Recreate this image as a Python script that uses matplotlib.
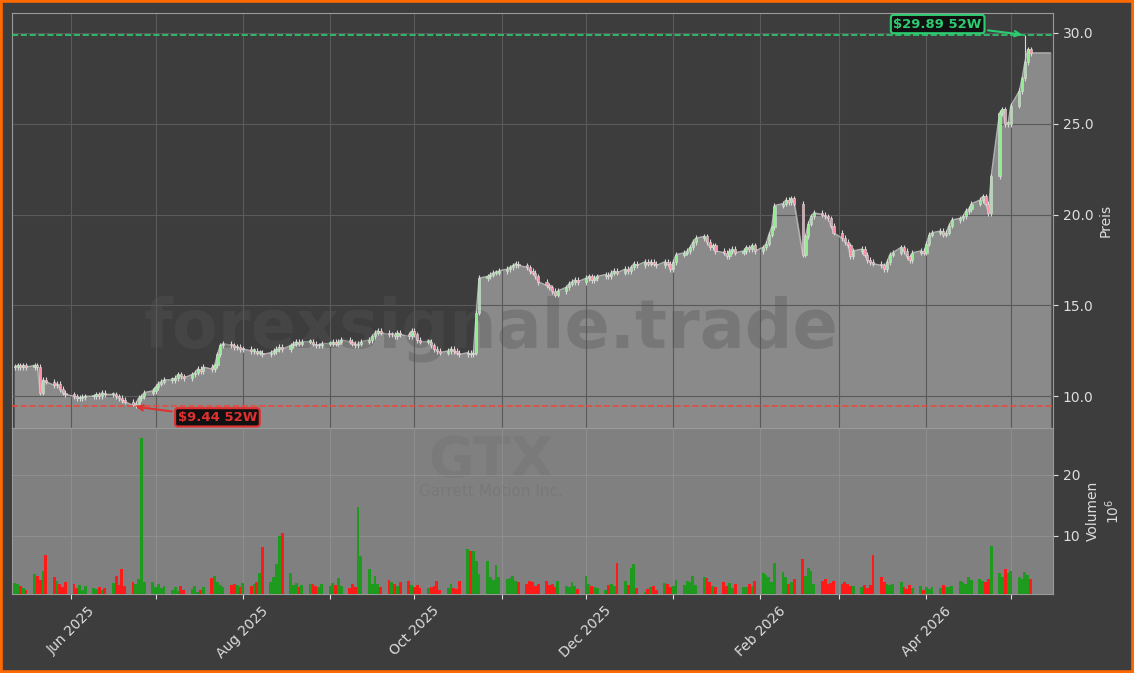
import numpy as np
import pandas as pd
import matplotlib.pyplot as plt
import matplotlib.dates as mdates

# daily closes, 5 per week starting Mon 2025-05-12
closes = [
    11.6, 11.7, 11.6, 11.7, 11.6,
    11.7, 11.6, 10.2, 10.9, 10.8,
    10.6, 10.7, 10.4, 10.2, 10.1,
    10.0, 9.9, 9.9, 9.95, 10.0,
    10.0, 10.1, 10.0, 10.2, 10.1,
    10.1, 10.0, 9.9, 9.8, 9.7,
    9.5, 9.6, 9.9, 10.0, 10.2,
    10.3, 10.5, 10.7, 10.8, 10.9,
    10.9, 11.0, 11.2, 11.1, 11.0,
    11.2, 11.3, 11.5, 11.4, 11.6,
    11.5, 11.7, 12.3, 12.8, 12.9,
    12.8, 12.7, 12.7, 12.6, 12.6,
    12.5, 12.5, 12.4, 12.4, 12.3,
    12.4, 12.5, 12.6, 12.7, 12.6,
    12.8, 12.9, 13.0, 12.9, 13.0,
    13.0, 12.9, 12.8, 12.8, 12.9,
    12.9, 13.0, 12.9, 13.0, 13.1,
    13.0, 12.9, 12.8, 12.9, 13.0,
    13.1, 13.3, 13.5, 13.6, 13.5,
    13.4, 13.4, 13.3, 13.5, 13.4,
    13.3, 13.6, 13.4, 13.1, 13.0,
    13.0, 12.8, 12.6, 12.5, 12.4,
    12.5, 12.6, 12.5, 12.4, 12.3,
    12.4, 12.3, 12.4, 14.6, 16.5,
    16.6, 16.7, 16.8, 16.8, 16.9,
    17.0, 17.1, 17.2, 17.3, 17.2,
    17.1, 16.9, 16.8, 16.6, 16.3,
    16.1, 16.0, 15.8, 15.6, 15.8,
    16.0, 16.2, 16.3, 16.4, 16.3,
    16.5, 16.6, 16.4, 16.5, 16.6,
    16.7, 16.6, 16.8, 16.9, 16.8,
    17.0, 16.9, 17.1, 17.3, 17.2,
    17.4, 17.3, 17.4, 17.3, 17.2,
    17.4, 17.3, 17.0, 17.4, 17.8,
    17.9, 18.0, 18.2, 18.5, 18.7,
    18.8, 18.5, 18.2, 18.3, 18.0,
    17.9, 17.7, 18.0, 18.1, 17.9,
    18.0, 18.2, 18.1, 18.3, 18.0,
    18.2, 18.4, 18.9, 19.3, 20.5,
    20.6, 20.8, 20.7, 20.9, 20.6,
    17.8, 18.8, 19.5, 19.9, 20.1,
    20.0, 19.9, 19.8, 19.4, 19.0,
    18.7, 18.5, 18.3, 17.7, 18.0,
    18.1, 17.8, 17.5, 17.4, 17.3,
    17.2, 17.0, 17.4, 17.8, 17.9,
    18.2, 18.0, 17.7, 17.5, 17.9,
    18.0, 17.9, 18.4, 18.9, 19.0,
    19.1, 18.9, 19.0, 19.4, 19.7,
    19.8, 19.9, 20.2, 20.3, 20.6,
    20.8, 21.0, 20.6, 20.1, 22.1,
    25.6, 25.8, 25.0, 25.0, 26.0,
    26.8, 27.5, 28.4, 29.1, 28.9,
]

# volume in millions
volumes = [
    2.3, 2.1, 1.8, 1.5, 1.2,
    3.8, 3.4, 2.8, 4.2, 6.9,
    3.2, 2.6, 2.1, 1.6, 2.5,
    2.2, 1.4, 1.9, 1.2, 1.8,
    1.5, 1.3, 1.7, 1.1, 1.4,
    2.3, 3.4, 2.0, 4.6, 1.8,
    2.4, 2.1, 3.0, 26.0, 2.4,
    2.4, 1.6, 2.2, 1.4, 1.8,
    1.1, 1.6, 1.0, 1.8, 1.2,
    1.3, 1.8, 0.9, 1.1, 1.6,
    3.1, 3.4, 2.5, 2.0, 1.7,
    1.9, 2.2, 2.0, 1.6, 2.3,
    1.8, 2.2, 2.4, 4.0, 8.1,
    2.4, 3.2, 5.4, 10.0, 10.5,
    4.0, 1.9, 2.3, 1.7, 1.9,
    2.2, 2.1, 1.8, 1.6, 2.1,
    1.8, 2.3, 1.9, 3.1, 1.8,
    1.5, 2.2, 1.7, 14.7, 6.7,
    4.5, 2.1, 3.4, 2.2, 1.6,
    2.8, 2.4, 2.2, 1.8, 2.4,
    2.6, 2.0, 1.7, 1.9, 1.5,
    1.4, 1.6, 1.8, 2.6, 1.2,
    1.5, 2.1, 1.4, 1.3, 2.7,
    7.8, 7.6, 7.6, 5.9, 3.8,
    5.9, 3.2, 2.8, 5.2, 3.2,
    3.0, 3.1, 3.4, 2.6, 2.4,
    2.2, 2.6, 2.4, 1.8, 2.1,
    2.6, 1.9, 2.2, 1.6, 2.7,
    1.8, 1.6, 2.5, 1.8, 1.3,
    3.4, 2.2, 1.8, 1.7, 1.4,
    1.2, 1.9, 2.2, 1.8, 5.6,
    2.6, 2.0, 4.8, 5.4, 1.4,
    0.8, 1.3, 1.6, 1.8, 1.2,
    2.3, 2.2, 1.7, 1.8, 2.8,
    1.9, 2.6, 2.4, 3.4, 2.0,
    3.2, 3.1, 2.4, 1.8, 1.6,
    2.4, 1.8, 2.3, 1.4, 2.1,
    1.6, 1.6, 2.2, 1.8, 2.6,
    3.9, 3.6, 3.2, 2.4, 5.5,
    4.1, 3.2, 2.1, 2.4, 3.0,
    6.2, 3.5, 4.8, 4.3, 2.2,
    2.6, 3.0, 2.2, 2.3, 2.6,
    2.1, 2.4, 2.1, 1.8, 1.8,
    1.7, 1.9, 1.5, 2.0, 6.8,
    3.2, 2.5, 2.2, 1.9, 2.1,
    2.4, 1.6, 1.3, 2.0, 1.4,
    1.8, 1.2, 1.7, 1.3, 1.6,
    1.4, 1.9, 1.7, 1.6, 1.8,
    2.6, 2.4, 2.1, 3.3, 2.8,
    3.0, 2.6, 2.4, 2.9, 8.3,
    4.0, 3.3, 4.5, 3.9, 4.2,
    3.3, 3.0, 4.1, 3.6, 3.0,
]

high_52w = 29.89
low_52w = 9.44

dates = pd.bdate_range("2025-05-12", periods=len(closes))
close = np.array(closes)
opens = np.concatenate([[close[0]], close[:-1]])
vol = np.array(volumes)
up = close >= opens
highs = np.maximum(opens, close) + 0.15
lows = np.minimum(opens, close) - 0.15
highs[close.argmax() - 1] = high_52w
lows[np.argmin(close)] = low_52w

bg = "#3d3d3d"
fig = plt.figure(figsize=(11.34, 6.73), dpi=100, facecolor=bg)
fig.patches.append(plt.Rectangle((0, 0), 1, 1, transform=fig.transFigure,
                                 fill=False, edgecolor="#ff6a00", lw=4))
ax = fig.add_axes([0.0106, 0.364, 0.918, 0.6167], facecolor=bg)
axv = fig.add_axes([0.0106, 0.1174, 0.918, 0.2466], facecolor="#808080", sharex=ax)

# area under closes, extended one week flat
fx = list(dates) + [dates[-1] + pd.Timedelta(days=7)]
fy = list(close) + [close[-1]]
ax.fill_between(fx, fy, 0, color="#8a8a8a", zorder=1)
ax.plot(fx, fy, color="#b0b0b0", lw=1, zorder=2)

w = 0.8
for d, o, c, h, l in zip(dates, opens, close, highs, lows):
    col = "#90ee90" if c >= o else "#ff8fa8"
    ax.vlines(d, l, h, color="#d8d8d8", lw=0.8, zorder=3)
    ax.bar(d, max(abs(c - o), 0.08), bottom=min(o, c), width=w,
           color=col, edgecolor="#dddddd", lw=0.4, zorder=4)

ax.axhline(high_52w, color="#2ecc71", ls="--", lw=1.2, zorder=5)
ax.axhline(low_52w, color="#e74c3c", ls="--", lw=1.2, zorder=5)
hi_d = dates[close.argmax() - 1]
lo_d = dates[np.argmin(close)]
ax.annotate(f"${high_52w:.2f} 52W", xy=(hi_d, high_52w),
            xytext=(hi_d - pd.Timedelta(days=31), high_52w + 0.6),
            color="#2ecc71", fontsize=9.5, fontweight="bold", ha="center", va="center",
            bbox=dict(boxstyle="round,pad=0.2", fc="#111111", ec="#2ecc71", lw=1.5),
            arrowprops=dict(arrowstyle="->", color="#2ecc71", lw=1.5), zorder=6)
ax.annotate(f"${low_52w:.2f} 52W", xy=(lo_d, low_52w),
            xytext=(lo_d + pd.Timedelta(days=30), low_52w - 0.6),
            color="#e03030", fontsize=9.5, fontweight="bold", ha="center", va="center",
            bbox=dict(boxstyle="round,pad=0.2", fc="#111111", ec="#e03030", lw=1.5),
            arrowprops=dict(arrowstyle="->", color="#e03030", lw=1.5), zorder=6)

ax.text(0.46, 0.24, "forexsignale.trade", transform=ax.transAxes, fontsize=48,
        fontweight="bold", color="#555555", alpha=0.35, ha="center", va="center", zorder=2)

ax.set_ylim(8.25, 31.1)
ax.set_yticks([10, 15, 20, 25, 30])
ax.yaxis.set_major_formatter(plt.FormatStrFormatter("%.1f"))
ax.yaxis.tick_right()
ax.yaxis.set_label_position("right")
ax.set_ylabel("Preis", color="#dddddd")
ax.grid(True, color="#5a5a5a", lw=0.8)
ax.tick_params(colors="#dddddd", labelbottom=False)

vcol = np.where(up, "#1e9a1e", "#ff1a1a")
axv.bar(dates, vol, width=1.0, color=vcol, zorder=3)
axv.text(0.46, 0.80, "GTX", transform=axv.transAxes, fontsize=40, fontweight="bold",
         color="#777777", alpha=0.6, ha="center", va="center", zorder=1)
axv.text(0.46, 0.62, "Garrett Motion Inc.", transform=axv.transAxes, fontsize=11,
         color="#777777", alpha=0.8, ha="center", va="center", zorder=1)
axv.set_ylim(0.5, 27.6)
axv.set_yticks([10, 20])
axv.yaxis.tick_right()
axv.yaxis.set_label_position("right")
axv.set_ylabel("Volumen\n$10^6$", color="#dddddd")
axv.grid(True, color="#909090", lw=0.6, zorder=0)
axv.tick_params(colors="#dddddd")
axv.set_xlim(pd.Timestamp("2025-05-11"), pd.Timestamp("2026-05-16"))

locs = mdates.date2num(pd.date_range("2025-06-01", "2026-05-01", freq="MS"))
axv.set_xticks(locs)
axv.set_xticklabels([mdates.num2date(v).strftime("%b %Y") if mdates.num2date(v).month % 2 == 0 else ""
                     for v in locs], rotation=45, ha="center")

for a in (ax, axv):
    for s in a.spines.values():
        s.set_color("#9a9a9a")

fig.savefig("out.png", dpi=100, facecolor=bg)
